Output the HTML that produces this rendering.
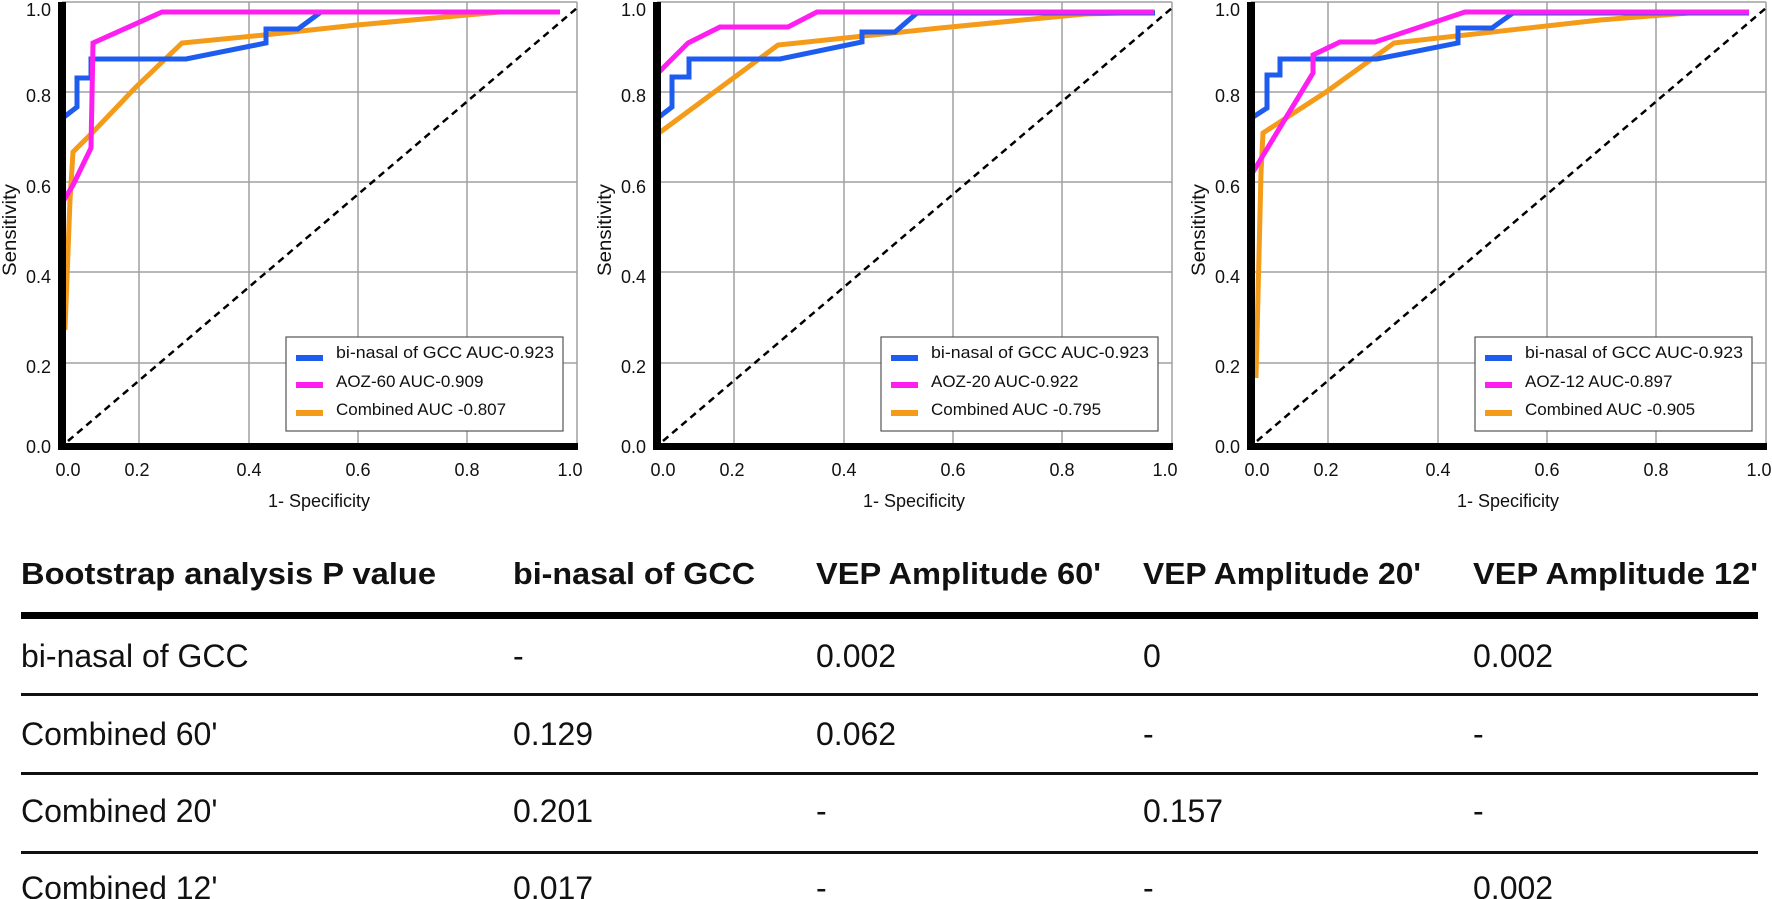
<!DOCTYPE html>
<html><head><meta charset="utf-8"><style>
html,body{margin:0;padding:0;background:#fff;}
svg{display:block;font-family:"Liberation Sans",Arial,sans-serif;}
</style></head><body>
<svg width="1772" height="899" viewBox="0 0 1772 899" xmlns="http://www.w3.org/2000/svg">
<defs>
<g id="frame">
  <g stroke="#a0a0a0" stroke-width="1.5" fill="none">
    <line x1="62" y1="2" x2="577" y2="2"/>
    <line x1="577" y1="2" x2="577" y2="447"/>
    <line x1="62" y1="92" x2="577" y2="92"/>
    <line x1="62" y1="182" x2="577" y2="182"/>
    <line x1="62" y1="272" x2="577" y2="272"/>
    <line x1="62" y1="363" x2="577" y2="363"/>
    <line x1="139" y1="2" x2="139" y2="447"/>
    <line x1="249" y1="2" x2="249" y2="447"/>
    <line x1="358" y1="2" x2="358" y2="447"/>
    <line x1="467" y1="2" x2="467" y2="447"/>
  </g>
  <line x1="68" y1="441" x2="577" y2="8" stroke="#000" stroke-width="2.5" stroke-dasharray="7,5"/>
  <g font-size="18" fill="#111" text-anchor="end">
    <text x="51" y="16">1.0</text>
    <text x="51" y="102">0.8</text>
    <text x="51" y="193">0.6</text>
    <text x="51" y="283">0.4</text>
    <text x="51" y="373">0.2</text>
    <text x="51" y="453">0.0</text>
  </g>
  <g font-size="18" fill="#111" text-anchor="middle">
    <text x="68" y="476">0.0</text>
    <text x="137" y="476">0.2</text>
    <text x="249" y="476">0.4</text>
    <text x="358" y="476">0.6</text>
    <text x="467" y="476">0.8</text>
    <text x="570" y="476">1.0</text>
    <text x="319" y="507">1- Specificity</text>
  </g>
  <text transform="translate(16,230) rotate(-90)" font-size="19" text-anchor="middle" fill="#111" textLength="92" lengthAdjust="spacingAndGlyphs">Sensitivity</text>
  <rect x="286" y="337" width="277" height="94" fill="#fff" stroke="#555" stroke-width="1.2"/>
  <g stroke-width="6">
    <line x1="296" y1="358" x2="323" y2="358" stroke="#1e5cf0"/>
    <line x1="296" y1="385" x2="323" y2="385" stroke="#ff1ef0"/>
    <line x1="296" y1="413" x2="323" y2="413" stroke="#f59b1a"/>
  </g>
</g>
</defs>

<!-- Chart 1 -->
<g>
  <use href="#frame"/>
  <g font-size="17" fill="#111">
    <text x="336" y="358" textLength="218" lengthAdjust="spacingAndGlyphs">bi-nasal of GCC AUC-0.923</text>
    <text x="336" y="387">AOZ-60 AUC-0.909</text>
    <text x="336" y="415">Combined AUC -0.807</text>
  </g>
  <g fill="none" stroke-width="5" stroke-linejoin="miter">
    <polyline stroke="#f59b1a" points="65,330 70,200 73,152 93,132 136,87 182,43 264,35 357,25 500,12 560,12"/>
    <polyline stroke="#1e5cf0" points="64,117 77,107 77,78 91,78 91,59 186,59 266,43 266,29 298,29 321,12 560,12"/>
    <polyline stroke="#ff1ef0" points="64,200 73,185 91,148 93,43 162,12 560,12"/>
  </g>
  <rect x="58" y="2" width="8" height="448" fill="#000"/>
  <rect x="58" y="443" width="520" height="7" fill="#000"/>
</g>

<!-- Chart 2 -->
<g transform="translate(595,0)">
  <use href="#frame"/>
  <g font-size="17" fill="#111">
    <text x="336" y="358" textLength="218" lengthAdjust="spacingAndGlyphs">bi-nasal of GCC AUC-0.923</text>
    <text x="336" y="387">AOZ-20 AUC-0.922</text>
    <text x="336" y="415">Combined AUC -0.795</text>
  </g>
  <g fill="none" stroke-width="5">
    <polyline stroke="#f59b1a" points="64,133 183,45 345,28 490,14 560,12"/>
    <polyline stroke="#1e5cf0" points="64,117 77,107 77,77 94,77 94,59 185,59 267,42 267,32 300,32 322,13 560,13"/>
    <polyline stroke="#ff1ef0" points="64,72 93,43 125,27 193,27 222,12 559,12"/>
  </g>
  <rect x="58" y="2" width="8" height="448" fill="#000"/>
  <rect x="58" y="443" width="520" height="7" fill="#000"/>
</g>

<!-- Chart 3 -->
<g transform="translate(1189,0)">
  <use href="#frame"/>
  <g font-size="17" fill="#111">
    <text x="336" y="358" textLength="218" lengthAdjust="spacingAndGlyphs">bi-nasal of GCC AUC-0.923</text>
    <text x="336" y="387">AOZ-12 AUC-0.897</text>
    <text x="336" y="415">Combined AUC -0.905</text>
  </g>
  <g fill="none" stroke-width="5">
    <polyline stroke="#f59b1a" points="67,378 72,173 74,133 137,92 205,43 411,20 500,13 560,12"/>
    <polyline stroke="#1e5cf0" points="64,117 78,108 78,75 91,75 91,59 188,59 269,43 269,28 303,28 324,13 560,13"/>
    <polyline stroke="#ff1ef0" points="64,172 124,73 124,55 151,42 186,42 276,12 560,12"/>
  </g>
  <rect x="58" y="2" width="8" height="448" fill="#000"/>
  <rect x="58" y="443" width="520" height="7" fill="#000"/>
</g>

<!-- Table -->
<g fill="#111">
  <g font-size="31" font-weight="bold">
    <text x="21" y="584" textLength="415" lengthAdjust="spacingAndGlyphs">Bootstrap analysis P value</text>
    <text x="513" y="584" textLength="242" lengthAdjust="spacingAndGlyphs">bi-nasal of GCC</text>
    <text x="816" y="584" textLength="285" lengthAdjust="spacingAndGlyphs">VEP Amplitude 60'</text>
    <text x="1143" y="584" textLength="278" lengthAdjust="spacingAndGlyphs">VEP Amplitude 20'</text>
    <text x="1473" y="584" textLength="285" lengthAdjust="spacingAndGlyphs">VEP Amplitude 12'</text>
  </g>
  <rect x="21" y="612" width="1737" height="7" fill="#000"/>
  <rect x="21" y="693" width="1737" height="3" fill="#111"/>
  <rect x="21" y="772" width="1737" height="3" fill="#111"/>
  <rect x="21" y="851" width="1737" height="3" fill="#111"/>
  <g font-size="32">
    <text x="21" y="667">bi-nasal of GCC</text>
    <text x="513" y="667">-</text>
    <text x="816" y="667">0.002</text>
    <text x="1143" y="667">0</text>
    <text x="1473" y="667">0.002</text>

    <text x="21" y="745">Combined 60'</text>
    <text x="513" y="745">0.129</text>
    <text x="816" y="745">0.062</text>
    <text x="1143" y="745">-</text>
    <text x="1473" y="745">-</text>

    <text x="21" y="822">Combined 20'</text>
    <text x="513" y="822">0.201</text>
    <text x="816" y="822">-</text>
    <text x="1143" y="822">0.157</text>
    <text x="1473" y="822">-</text>

    <text x="21" y="899">Combined 12'</text>
    <text x="513" y="899">0.017</text>
    <text x="816" y="899">-</text>
    <text x="1143" y="899">-</text>
    <text x="1473" y="899">0.002</text>
  </g>
</g>
</svg>
</body></html>
